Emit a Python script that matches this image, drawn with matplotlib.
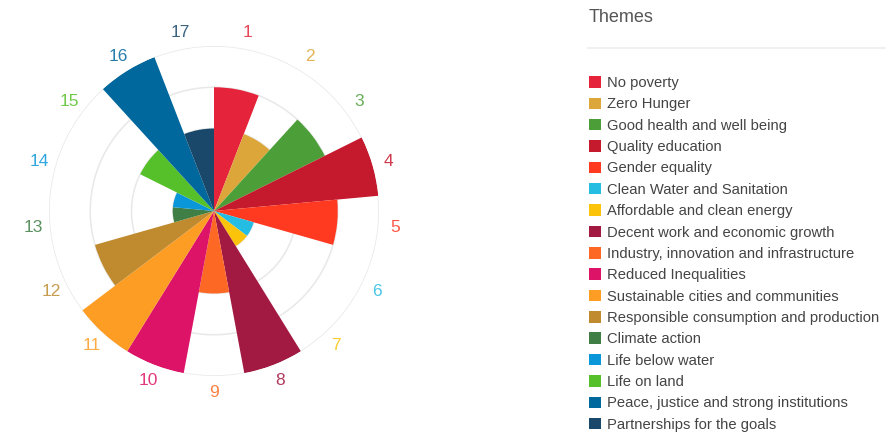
import numpy as np
import matplotlib
matplotlib.use("Agg")
import matplotlib.pyplot as plt
from matplotlib.patches import Patch
from matplotlib.lines import Line2D

plt.rcParams['font.family'] = ['Liberation Sans', 'DejaVu Sans']

goal_numbers = [str(i) for i in range(1, 18)]
themes = ["No poverty", "Zero Hunger", "Good health and well being",
          "Quality education", "Gender equality", "Clean Water and Sanitation",
          "Affordable and clean energy", "Decent work and economic growth",
          "Industry, innovation and infrastructure", "Reduced Inequalities",
          "Sustainable cities and communities",
          "Responsible consumption and production", "Climate action",
          "Life below water", "Life on land",
          "Peace, justice and strong institutions", "Partnerships for the goals"]
values = [3, 2, 3, 4, 3, 1, 1, 4, 2, 4, 4, 3, 1, 1, 2, 4, 2]
colors = ["#E5243B", "#DDA63A", "#4C9F38", "#C5192D", "#FF3A21", "#26BDE2",
          "#FCC30B", "#A21942", "#FD6925", "#DD1367", "#FD9D24", "#BF8B2E",
          "#3F7E44", "#0A97D9", "#56C02B", "#00689D", "#19486A"]
r_max = 4

W, H = 886, 433
fig = plt.figure(figsize=(W / 100, H / 100), dpi=100)

# polar chart, centre (214, 211) px, radius 165 px
cx, cy, R = 214, 211, 165
ax = fig.add_axes([(cx - R) / W, (H - cy - R) / H, 2 * R / W, 2 * R / H],
                  projection='polar')
ax.set_theta_zero_location('N')
ax.set_theta_direction(-1)
n = len(values)
width = 2 * np.pi / n
theta = np.arange(n) * width
ax.bar(theta, values, width=width, align='edge', color=colors,
       linewidth=0, zorder=2)
ax.set_ylim(0, r_max)
ax.set_yticks(range(1, r_max + 1))
ax.set_yticklabels([])
ax.set_xticks([])
ax.grid(False)
ax.spines['polar'].set_visible(False)
circ = np.linspace(0, 2 * np.pi, 400)
for r in range(1, r_max + 1):
    ax.plot(circ, np.full_like(circ, r), color="#e8e8e8", lw=1.1, zorder=1)

for t, lab, c in zip(theta + width / 2, goal_numbers, colors):
    ax.text(t, r_max * 1.1, lab, color=c, fontsize=12.5, ha='center',
            va='center', alpha=0.85, clip_on=False)

# legend
fig.text(589 / W, 1 - 17 / H, "Themes", fontsize=13, color="#555555",
         va='center', ha='left')
fig.add_artist(Line2D([588 / W, 1.0], [1 - 48 / H, 1 - 48 / H],
                      color="#eeeeee", lw=1.2))
handles = [Patch(facecolor=c, edgecolor='none') for c in colors]
leg = fig.legend(handles, themes, loc='upper left',
                 bbox_to_anchor=(589 / W, 1 - 76 / H), frameon=False,
                 fontsize=10.6, handlelength=0.82, handleheight=0.82,
                 handletextpad=0.4, labelspacing=0.5, borderpad=0,
                 borderaxespad=0)
for txt in leg.get_texts():
    txt.set_color("#444444")

fig.savefig("out.png", dpi=100)
